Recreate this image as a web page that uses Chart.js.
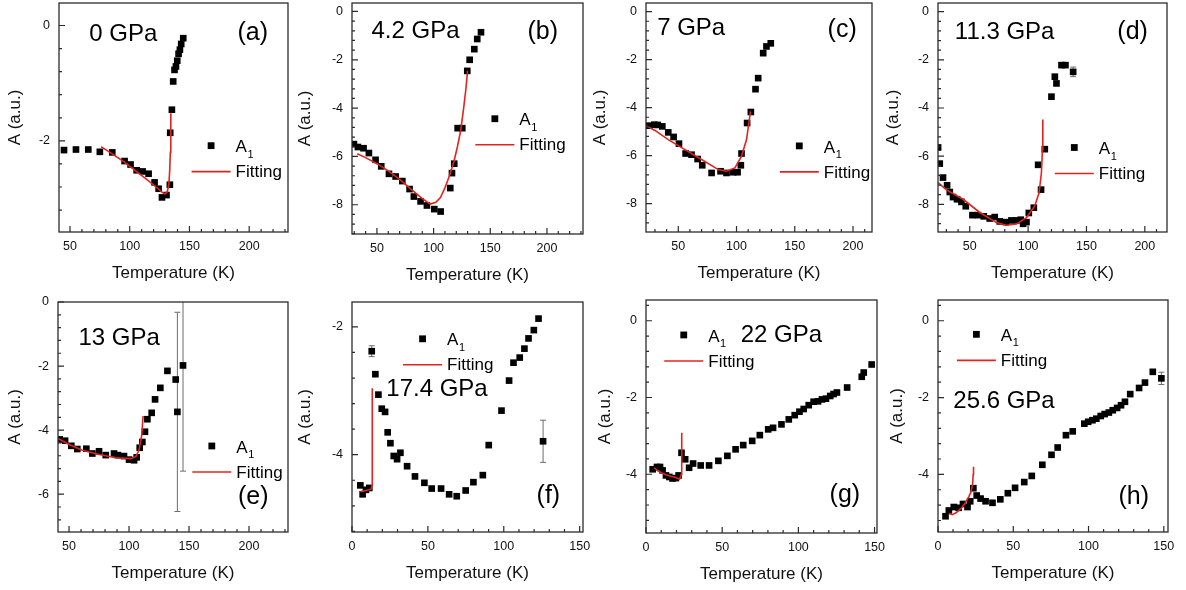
<!DOCTYPE html>
<html>
<head>
<meta charset="utf-8">
<script src="https://cdn.jsdelivr.net/npm/chart.js@4.4.0/dist/chart.umd.min.js"></script>
<style>
  html, body { margin: 0; padding: 0; background: #fff; }
  #wrap { position: relative; width: 1186px; height: 590px; overflow: hidden; }
  #wrap canvas { position: absolute; }
</style>
</head>
<body>
<div id="wrap"></div>
<script>
// ---- data: temperature (K) and amplitude A (a.u.) ----
// (a) 0 GPa
const aTemp = [45, 55, 65.3, 75, 85.4, 95.7, 100.7, 105.8, 110.8, 115.8, 120.8, 124.2, 127, 130.8, 133.6, 133.9, 135.3, 136.4, 137.5, 138.7, 139.8, 140.9, 142, 143.1, 144.8];
const aAmp = [-2.16, -2.15, -2.15, -2.19, -2.2, -2.35, -2.41, -2.51, -2.53, -2.57, -2.72, -2.83, -2.98, -2.94, -2.76, -1.86, -1.46, -0.97, -0.77, -0.71, -0.61, -0.49, -0.42, -0.32, -0.22];
const aFitTemp = [76, 85, 95, 105, 115, 122, 127, 129.5, 131.5, 132.8, 133.5, 134, 134.3, 134.5];
const aFitAmp = [-2.10, -2.22, -2.36, -2.52, -2.68, -2.80, -2.89, -2.92, -2.88, -2.75, -2.5, -2.2, -1.9, -1.52];

// (b) 4.2 GPa
const bTemp = [29.7, 33.2, 38.2, 42.9, 48.8, 53.8, 60.6, 66.5, 72.4, 78.8, 82.6, 88.5, 94.1, 100.6, 106.2, 114.7, 116.2, 118.2, 121.2, 125.3, 129.7, 131.8, 135.9, 138.5, 141.8];
const bAmp = [-5.49, -5.61, -5.66, -5.86, -6.14, -6.41, -6.72, -6.83, -7.02, -7.35, -7.66, -7.86, -8.03, -8.18, -8.28, -7.31, -6.69, -6.3, -4.83, -4.83, -2.46, -2.0, -1.56, -1.14, -0.86];
const bFitTemp = [32.6, 40, 50, 60, 70, 80, 90, 97, 102, 106, 110, 114, 118, 121, 124, 126.5, 128.5, 130];
const bFitAmp = [-5.89, -6.05, -6.3, -6.6, -6.95, -7.35, -7.75, -7.97, -7.9, -7.7, -7.3, -6.8, -6.2, -5.6, -4.9, -4.0, -3.2, -2.45];

// (c) 7 GPa
const cTemp = [25.1, 29.4, 32.3, 36.3, 41.4, 46, 50.6, 56.3, 61.4, 66.6, 70.6, 78.6, 86.3, 91.4, 97.1, 100.9, 103.7, 104.3, 109.1, 112.3, 116.3, 118.6, 122.9, 125.7, 129.4];
const cAmp = [-4.75, -4.71, -4.72, -4.78, -5.03, -5.22, -5.5, -5.91, -5.96, -6.14, -6.4, -6.72, -6.65, -6.72, -6.69, -6.69, -6.4, -5.91, -4.64, -4.18, -3.23, -2.77, -1.73, -1.45, -1.32];
const cFitTemp = [22.3, 30, 41.4, 55.7, 70, 84.3, 91.4, 98.6, 104.3, 108.6, 112];
const cFitAmp = [-4.75, -4.95, -5.33, -5.75, -6.16, -6.58, -6.65, -6.51, -6.02, -5.33, -4.15];

// (d) 11.3 GPa
const dTemp = [22.9, 24.3, 27.1, 30.6, 32.9, 35.7, 39.1, 42.9, 46.6, 52.3, 57.1, 62, 67.1, 71.4, 75.7, 80.9, 85.7, 90, 93.7, 95.7, 98.6, 100.6, 104.9, 108.6, 111.1, 114.3, 120, 122.9, 124.3, 128.6, 132, 138.6];
const dAmp = [-5.64, -6.31, -6.89, -7.21, -7.49, -7.7, -7.79, -7.9, -8.08, -8.45, -8.45, -8.5, -8.59, -8.53, -8.71, -8.74, -8.67, -8.67, -8.64, -8.81, -8.74, -8.36, -8.14, -6.36, -7.39, -5.71, -3.53, -2.7, -2.98, -2.22, -2.22, -2.5];
const dFitTemp = [22.9, 30, 44.3, 58.6, 72.9, 81.4, 90, 98.6, 105.7, 109.4, 111.4, 112.3, 112.6];
const dFitAmp = [-7.1, -7.4, -7.79, -8.34, -8.76, -8.87, -8.82, -8.55, -8.07, -7.52, -6.69, -5.72, -4.48];
const dErrTemp = [138.6], dErrAmp = [-2.5], dErrSize = [0.2];

// (e) 13 GPa
const eTemp = [42.2, 46.7, 51.9, 56.9, 64.4, 69.4, 75, 80.6, 87.5, 90.8, 95.8, 100, 104.2, 106.4, 108.9, 111.1, 113.3, 115.3, 118.9, 121.7, 126.1, 132, 138.9, 140.3, 145];
const eAmp = [-4.29, -4.33, -4.49, -4.59, -4.58, -4.73, -4.66, -4.78, -4.73, -4.78, -4.81, -4.92, -4.94, -4.85, -4.55, -4.37, -4.05, -3.66, -3.46, -3.04, -2.68, -2.15, -2.42, -3.43, -1.98];
const eFitTemp = [40.8, 50, 61.1, 75, 88.9, 101.4, 105.6, 108.3, 110.6, 111.7];
const eFitAmp = [-4.26, -4.45, -4.63, -4.76, -4.86, -4.89, -4.83, -4.63, -4.16, -3.56];
const eErrTemp = [140.3, 145], eErrAmp = [-3.43, -1.98], eErrSize = [3.11, 3.3];

// (f) 17.4 GPa
const fTemp = [5.5, 7, 9.2, 11.4, 13, 15.4, 17.4, 19.6, 21.8, 23.5, 25.3, 27.5, 29.7, 31.9, 36.3, 41.5, 47.7, 52.5, 58.7, 64, 69, 74.9, 80, 86.2, 90.1, 98.5, 103.5, 106.4, 110.5, 113.6, 116.3, 119.8, 122.9, 125.9];
const fAmp = [-4.48, -4.62, -4.55, -4.52, -2.38, -2.74, -3.06, -3.28, -3.33, -3.65, -3.82, -4.02, -4.07, -3.97, -4.18, -4.34, -4.44, -4.53, -4.53, -4.62, -4.65, -4.56, -4.43, -4.32, -3.85, -3.31, -2.84, -2.56, -2.48, -2.34, -2.18, -2.05, -1.87, -3.79];
const fFitTemp = [5.5, 9, 12.5, 13.2, 13.3, 13.4];
const fFitAmp = [-4.58, -4.56, -4.54, -4.48, -3.5, -2.96];
const fErrTemp = [13, 125.9], fErrAmp = [-2.38, -3.79], fErrSize = [0.085, 0.33];

// (g) 22 GPa
const gTemp = [4.4, 7.2, 9.2, 10.9, 13.1, 15.3, 17.4, 19.6, 21.4, 23.3, 25.7, 28.3, 30.9, 35.9, 41.4, 47.5, 53.4, 58.8, 63.8, 69.7, 74.7, 80.2, 83.4, 88.9, 93.7, 97.6, 100.7, 103.5, 106.8, 110, 112.9, 115.5, 118.1, 120.9, 123.1, 125.3, 132, 141.6, 142.9, 148.1];
const gAmp = [-3.87, -3.81, -3.81, -3.9, -4.03, -4.07, -4.11, -4.1, -4.03, -3.44, -3.61, -3.83, -3.72, -3.77, -3.77, -3.65, -3.52, -3.35, -3.24, -3.13, -2.98, -2.83, -2.79, -2.7, -2.57, -2.46, -2.37, -2.3, -2.2, -2.11, -2.1, -2.05, -2.03, -1.96, -1.91, -1.87, -1.74, -1.46, -1.35, -1.14];
const gFitTemp = [5.4, 8, 11, 15, 19, 22, 23.2, 23.4, 23.5];
const gFitAmp = [-3.83, -3.92, -3.98, -4.04, -4.08, -4.13, -4.0, -3.5, -2.92];

// (h) 25.6 GPa
const hTemp = [5, 7.2, 10.5, 13.7, 16.6, 19.6, 21.4, 23.5, 25.7, 28.3, 31.6, 36.2, 41.4, 46.4, 51.2, 57.3, 62.3, 69.3, 75.4, 79.5, 85, 89.5, 97.2, 99.8, 102.6, 105.2, 108.1, 110.7, 113.5, 116.1, 119, 121.6, 124.2, 127.7, 133.6, 137.5, 142.7, 148.4];
const hAmp = [-5.09, -4.94, -4.85, -4.87, -4.77, -4.85, -4.7, -4.36, -4.55, -4.63, -4.7, -4.74, -4.65, -4.49, -4.35, -4.2, -4.04, -3.75, -3.49, -3.3, -2.98, -2.88, -2.68, -2.63, -2.59, -2.55, -2.48, -2.43, -2.39, -2.33, -2.27, -2.2, -2.11, -1.91, -1.75, -1.61, -1.33, -1.5];
const hFitTemp = [7.2, 9.5, 12, 15, 18, 20.5, 22, 23, 23.4, 23.6];
const hFitAmp = [-5.02, -5.05, -5.0, -4.9, -4.75, -4.58, -4.45, -4.25, -4.0, -3.8];
const hErrTemp = [148.4], hErrAmp = [-1.5], hErrSize = [0.16];

// ---- panel layout ----
const FONT = '"Liberation Sans", Arial, Helvetica, sans-serif';
const RED = '#e3231e';
const PAD_L = 60, PAD_T = 6, PAD_R = 16, PAD_B = 52;

const panels = [
  { temp: aTemp, amp: aAmp, fitT: aFitTemp, fitA: aFitAmp, box: [59, 3, 288, 232],
    xr: [40.8, 232.5], yr: [-3.58, 0.39], xStep: 50, yStep: 2,
    pressure: '0 GPa', pPos: [0.281, 0.138], letter: '(a)', lPos: [0.846, 0.130], leg: [0.579, 0.623], titlePad: 5.8 },
  { temp: bTemp, amp: bAmp, fitT: bFitTemp, fitA: bFitAmp, box: [352, 3, 583, 234],
    xr: [28, 231.8], yr: [-9.21, 0.35], xStep: 50, yStep: 2,
    pressure: '4.2 GPa', pPos: [0.275, 0.123], letter: '(b)', lPos: [0.826, 0.124], leg: [0.534, 0.501], titlePad: 2.8 },
  { temp: cTemp, amp: cAmp, fitT: cFitTemp, fitA: cFitAmp, box: [646, 3, 872, 232],
    xr: [22.3, 216.3], yr: [-9.18, 0.36], xStep: 50, yStep: 2,
    pressure: '7 GPa', pPos: [0.200, 0.110], letter: '(c)', lPos: [0.868, 0.118], leg: [0.592, 0.624], titlePad: 3.8 },
  { temp: dTemp, amp: dAmp, fitT: dFitTemp, fitA: dFitAmp, box: [938, 3, 1167, 232],
    xr: [22.8, 219], yr: [-9.15, 0.36], xStep: 50, yStep: 2,
    err: [dErrTemp, dErrAmp, dErrSize],
    pressure: '11.3 GPa', pPos: [0.291, 0.130], letter: '(d)', lPos: [0.850, 0.127], leg: [0.510, 0.631], titlePad: 4.8 },
  { temp: eTemp, amp: eAmp, fitT: eFitTemp, fitA: eFitAmp, box: [58, 302, 288, 532],
    xr: [40.8, 232.5], yr: [-7.18, 0], xStep: 50, yStep: 2,
    err: [eErrTemp, eErrAmp, eErrSize],
    pressure: '13 GPa', pPos: [0.266, 0.156], letter: '(e)', lPos: [0.849, 0.849], leg: [0.584, 0.626], titlePad: 6.8 },
  { temp: fTemp, amp: fAmp, fitT: fFitTemp, fitA: fFitAmp, box: [352, 302, 583, 532],
    xr: [0, 152.2], yr: [-5.21, -1.61], xStep: 50, yStep: 2,
    err: [fErrTemp, fErrAmp, fErrSize],
    pressure: '17.4 GPa', pPos: [0.368, 0.378], letter: '(f)', lPos: [0.850, 0.846], leg: [0.221, 0.160], titlePad: 3.1 },
  { temp: gTemp, amp: gAmp, fitT: gFitTemp, fitA: gFitAmp, box: [646, 300, 877, 533],
    xr: [0, 151.6], yr: [-5.53, 0.54], xStep: 50, yStep: 2,
    pressure: '22 GPa', pPos: [0.586, 0.150], letter: '(g)', lPos: [0.861, 0.838], leg: [0.079, 0.150], titlePad: 9.1 },
  { temp: hTemp, amp: hAmp, fitT: hFitTemp, fitA: hFitAmp, box: [938, 300, 1168, 532],
    xr: [0, 152.8], yr: [-5.5, 0.54], xStep: 50, yStep: 2,
    err: [hErrTemp, hErrAmp, hErrSize],
    pressure: '25.6 GPa', pPos: [0.287, 0.436], letter: '(h)', lPos: [0.851, 0.850], leg: [0.082, 0.148], titlePad: 9.4 }
];

// values between min and max on a step grid
function gridValues(min, max, step) {
  const out = [];
  for (let k = Math.ceil(min / step - 1e-9); k * step <= max + 1e-9; k++) out.push(Math.round(k * step * 1000) / 1000);
  return out;
}

// box, inward ticks, error bars, labels and legend
function decor(p) {
  return {
    id: 'decor',
    beforeDatasetsDraw(chart) {
      if (!p.err) return;
      const { ctx, chartArea: a, scales: { x, y } } = chart;
      ctx.save();
      ctx.beginPath();
      ctx.rect(a.left, a.top, a.width, a.height);
      ctx.clip();
      ctx.strokeStyle = '#6d6d6d';
      ctx.lineWidth = 1;
      p.err[0].forEach((t, i) => {
        const px = x.getPixelForValue(t);
        const y0 = y.getPixelForValue(p.err[1][i] + p.err[2][i]);
        const y1 = y.getPixelForValue(p.err[1][i] - p.err[2][i]);
        ctx.beginPath();
        ctx.moveTo(px, y0); ctx.lineTo(px, y1);
        ctx.moveTo(px - 3, y0); ctx.lineTo(px + 3, y0);
        ctx.moveTo(px - 3, y1); ctx.lineTo(px + 3, y1);
        ctx.stroke();
      });
      ctx.restore();
    },
    afterDatasetsDraw(chart) {
      const { ctx, chartArea: a, scales: { x, y } } = chart;
      ctx.save();
      ctx.strokeStyle = '#2b2b2b';
      ctx.lineWidth = 1.3;
      ctx.strokeRect(a.left, a.top, a.width, a.height);

      // minor + major ticks pointing into the plot
      ctx.lineWidth = 1.2;
      ctx.beginPath();
      gridValues(p.xr[0], p.xr[1], p.xStep / 5).forEach(v => {
        const px = x.getPixelForValue(v);
        const major = Math.abs(v / p.xStep - Math.round(v / p.xStep)) < 1e-6;
        ctx.moveTo(px, a.bottom);
        ctx.lineTo(px, a.bottom - (major ? 6 : 3));
      });
      gridValues(p.yr[0], p.yr[1], p.yStep / 5).forEach(v => {
        const py = y.getPixelForValue(v);
        const major = Math.abs(v / p.yStep - Math.round(v / p.yStep)) < 1e-6;
        ctx.moveTo(a.left, py);
        ctx.lineTo(a.left + (major ? 6 : 3), py);
      });
      ctx.stroke();

      // pressure and panel letter
      ctx.fillStyle = '#000';
      ctx.textAlign = 'center';
      ctx.textBaseline = 'middle';
      ctx.font = '24px ' + FONT;
      ctx.fillText(p.pressure, a.left + p.pPos[0] * a.width, a.top + p.pPos[1] * a.height);
      ctx.font = '25px ' + FONT;
      ctx.fillText(p.letter, a.left + p.lPos[0] * a.width, a.top + p.lPos[1] * a.height);

      // legend
      const lx = a.left + p.leg[0] * a.width;
      const ly = a.top + p.leg[1] * a.height;
      ctx.fillRect(lx + 19.5 - 3.4, ly - 3.4, 6.8, 6.8);
      ctx.textAlign = 'left';
      ctx.font = '17px ' + FONT;
      ctx.fillText('A', lx + 44, ly + 2);
      const wA = ctx.measureText('A').width;
      ctx.font = '11px ' + FONT;
      ctx.fillText('1', lx + 44 + wA + 0.5, ly + 9);
      ctx.font = '17px ' + FONT;
      ctx.fillText('Fitting', lx + 44, ly + 27);
      ctx.strokeStyle = RED;
      ctx.lineWidth = 1.6;
      ctx.beginPath();
      ctx.moveTo(lx, ly + 26);
      ctx.lineTo(lx + 39, ly + 26);
      ctx.stroke();
      ctx.restore();
    }
  };
}

const wrap = document.getElementById('wrap');

panels.forEach(p => {
  const cv = document.createElement('canvas');
  const w = (p.box[2] - p.box[0]) + PAD_L + PAD_R;
  const h = (p.box[3] - p.box[1]) + PAD_T + PAD_B;
  cv.width = w;
  cv.height = h;
  cv.style.width = w + 'px';
  cv.style.height = h + 'px';
  cv.style.left = (p.box[0] - PAD_L) + 'px';
  cv.style.top = (p.box[1] - PAD_T) + 'px';
  wrap.appendChild(cv);

  const tickFont = { family: FONT, size: 12.5 };
  const titleFont = { family: FONT, size: 17 };

  new Chart(cv, {
    type: 'scatter',
    data: {
      datasets: [
        {
          label: 'A1',
          data: p.temp.map((t, i) => ({ x: t, y: p.amp[i] })),
          pointStyle: 'rect',
          pointRadius: 4.7,
          backgroundColor: '#000',
          borderColor: '#000',
          borderWidth: 0,
          order: 2
        },
        {
          label: 'Fitting',
          data: p.fitT.map((t, i) => ({ x: t, y: p.fitA[i] })),
          showLine: true,
          borderColor: RED,
          borderWidth: 1.6,
          pointRadius: 0,
          tension: 0,
          fill: false,
          order: 1
        }
      ]
    },
    options: {
      responsive: false,
      animation: false,
      devicePixelRatio: 1,
      layout: { autoPadding: false, padding: { left: 0, top: PAD_T, right: PAD_R, bottom: 0 } },
      plugins: { legend: { display: false }, tooltip: { enabled: false } },
      scales: {
        x: {
          type: 'linear',
          min: p.xr[0],
          max: p.xr[1],
          afterFit(s) { s.height = PAD_B; s.paddingLeft = 0; s.paddingRight = 0; },
          afterBuildTicks(s) { s.ticks = gridValues(p.xr[0], p.xr[1], p.xStep).map(v => ({ value: v })); },
          grid: { display: false, drawTicks: false },
          border: { display: false },
          ticks: { autoSkip: false, maxRotation: 0, padding: 7, color: '#111', font: tickFont },
          title: { display: true, text: 'Temperature (K)', color: '#111', font: titleFont,
                   padding: { top: 0, bottom: 0.5 } }
        },
        y: {
          type: 'linear',
          min: p.yr[0],
          max: p.yr[1],
          afterFit(s) { s.width = PAD_L; s.paddingTop = 0; s.paddingBottom = 0; },
          afterBuildTicks(s) { s.ticks = gridValues(p.yr[0], p.yr[1], p.yStep).map(v => ({ value: v })); },
          grid: { display: false, drawTicks: false },
          border: { display: false },
          ticks: { padding: 9, color: '#111', font: tickFont },
          title: { display: true, text: 'A (a.u.)', color: '#111', font: titleFont,
                   padding: { top: p.titlePad, bottom: 0 } }
        }
      }
    },
    plugins: [decor(p)]
  });
});
</script>
</body>
</html>
